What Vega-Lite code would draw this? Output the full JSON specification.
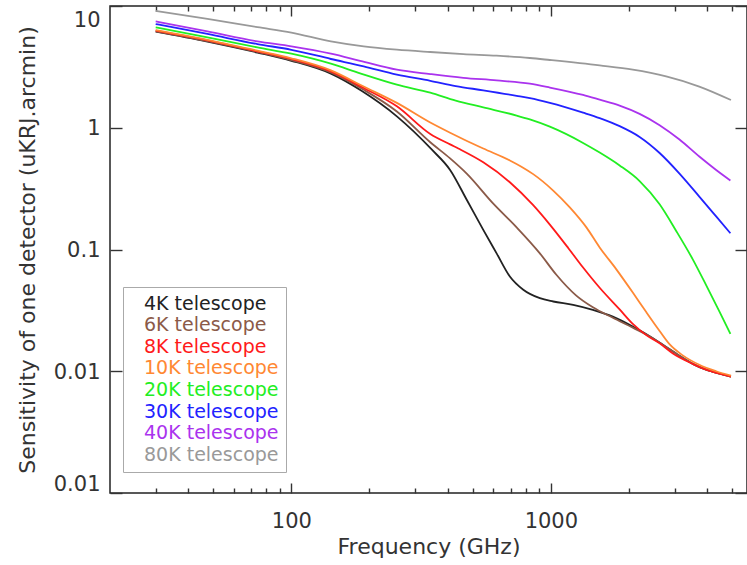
{
  "$schema": "https://vega.github.io/schema/vega-lite/v6.json",
  "width": 637,
  "height": 487,
  "autosize": {"type": "none"},
  "padding": {"left": 110, "top": 6, "right": 0, "bottom": 72},
  "background": "white",
  "config": {
    "view": {"stroke": "#222", "strokeWidth": 1.5},
    "font": "DejaVu Sans",
    "axis": {"grid": false, "domain": false, "ticks": true, "zindex": 1, "labelFont": "DejaVu Sans", "titleFont": "DejaVu Sans", "labelColor": "#333", "titleColor": "#333", "tickColor": "#333333", "tickWidth": 1.4, "tickOpacity": 1, "titleFontWeight": "normal"}
  },
  "datasets": {
    "curves": [
      {"telescope": "4K telescope", "freq": 30, "sens": 6.15},
      {"telescope": "4K telescope", "freq": 47.5, "sens": 5.1},
      {"telescope": "4K telescope", "freq": 74, "sens": 4.15},
      {"telescope": "4K telescope", "freq": 100, "sens": 3.55},
      {"telescope": "4K telescope", "freq": 142, "sens": 2.78},
      {"telescope": "4K telescope", "freq": 187, "sens": 2.0},
      {"telescope": "4K telescope", "freq": 255, "sens": 1.24},
      {"telescope": "4K telescope", "freq": 348, "sens": 0.66},
      {"telescope": "4K telescope", "freq": 409, "sens": 0.45},
      {"telescope": "4K telescope", "freq": 474, "sens": 0.256},
      {"telescope": "4K telescope", "freq": 549, "sens": 0.145},
      {"telescope": "4K telescope", "freq": 618, "sens": 0.093},
      {"telescope": "4K telescope", "freq": 695, "sens": 0.06},
      {"telescope": "4K telescope", "freq": 783, "sens": 0.0467},
      {"telescope": "4K telescope", "freq": 907, "sens": 0.0398},
      {"telescope": "4K telescope", "freq": 1021, "sens": 0.0374},
      {"telescope": "4K telescope", "freq": 1219, "sens": 0.0351},
      {"telescope": "4K telescope", "freq": 1452, "sens": 0.0319},
      {"telescope": "4K telescope", "freq": 1733, "sens": 0.0281},
      {"telescope": "4K telescope", "freq": 2069, "sens": 0.0233},
      {"telescope": "4K telescope", "freq": 2471, "sens": 0.0187},
      {"telescope": "4K telescope", "freq": 2782, "sens": 0.0158},
      {"telescope": "4K telescope", "freq": 3131, "sens": 0.0134},
      {"telescope": "4K telescope", "freq": 3523, "sens": 0.0115},
      {"telescope": "4K telescope", "freq": 3966, "sens": 0.0103},
      {"telescope": "4K telescope", "freq": 4460, "sens": 0.00955},
      {"telescope": "4K telescope", "freq": 4944, "sens": 0.00903},

      {"telescope": "6K telescope", "freq": 30, "sens": 6.2},
      {"telescope": "6K telescope", "freq": 47.5, "sens": 5.15},
      {"telescope": "6K telescope", "freq": 74, "sens": 4.2},
      {"telescope": "6K telescope", "freq": 100, "sens": 3.6},
      {"telescope": "6K telescope", "freq": 142, "sens": 2.85},
      {"telescope": "6K telescope", "freq": 190, "sens": 2.05},
      {"telescope": "6K telescope", "freq": 255, "sens": 1.36},
      {"telescope": "6K telescope", "freq": 343, "sens": 0.76},
      {"telescope": "6K telescope", "freq": 409, "sens": 0.56},
      {"telescope": "6K telescope", "freq": 474, "sens": 0.42},
      {"telescope": "6K telescope", "freq": 600, "sens": 0.238},
      {"telescope": "6K telescope", "freq": 738, "sens": 0.152},
      {"telescope": "6K telescope", "freq": 907, "sens": 0.093},
      {"telescope": "6K telescope", "freq": 1050, "sens": 0.062},
      {"telescope": "6K telescope", "freq": 1250, "sens": 0.042},
      {"telescope": "6K telescope", "freq": 1452, "sens": 0.0335},
      {"telescope": "6K telescope", "freq": 1733, "sens": 0.0275},
      {"telescope": "6K telescope", "freq": 2069, "sens": 0.0228},
      {"telescope": "6K telescope", "freq": 2471, "sens": 0.0187},
      {"telescope": "6K telescope", "freq": 2782, "sens": 0.0158},
      {"telescope": "6K telescope", "freq": 3131, "sens": 0.0134},
      {"telescope": "6K telescope", "freq": 3523, "sens": 0.0115},
      {"telescope": "6K telescope", "freq": 3966, "sens": 0.0103},
      {"telescope": "6K telescope", "freq": 4460, "sens": 0.00955},
      {"telescope": "6K telescope", "freq": 4944, "sens": 0.00903},

      {"telescope": "8K telescope", "freq": 30, "sens": 6.27},
      {"telescope": "8K telescope", "freq": 47.5, "sens": 5.22},
      {"telescope": "8K telescope", "freq": 74, "sens": 4.24},
      {"telescope": "8K telescope", "freq": 100, "sens": 3.67},
      {"telescope": "8K telescope", "freq": 142, "sens": 2.9},
      {"telescope": "8K telescope", "freq": 190, "sens": 2.12},
      {"telescope": "8K telescope", "freq": 255, "sens": 1.5},
      {"telescope": "8K telescope", "freq": 343, "sens": 0.89},
      {"telescope": "8K telescope", "freq": 409, "sens": 0.73},
      {"telescope": "8K telescope", "freq": 440, "sens": 0.675},
      {"telescope": "8K telescope", "freq": 549, "sens": 0.52},
      {"telescope": "8K telescope", "freq": 695, "sens": 0.357},
      {"telescope": "8K telescope", "freq": 855, "sens": 0.231},
      {"telescope": "8K telescope", "freq": 991, "sens": 0.16},
      {"telescope": "8K telescope", "freq": 1170, "sens": 0.102},
      {"telescope": "8K telescope", "freq": 1331, "sens": 0.0711},
      {"telescope": "8K telescope", "freq": 1542, "sens": 0.0485},
      {"telescope": "8K telescope", "freq": 1841, "sens": 0.0322},
      {"telescope": "8K telescope", "freq": 2069, "sens": 0.0245},
      {"telescope": "8K telescope", "freq": 2331, "sens": 0.0198},
      {"telescope": "8K telescope", "freq": 2625, "sens": 0.017},
      {"telescope": "8K telescope", "freq": 2954, "sens": 0.014},
      {"telescope": "8K telescope", "freq": 3523, "sens": 0.0115},
      {"telescope": "8K telescope", "freq": 3966, "sens": 0.0103},
      {"telescope": "8K telescope", "freq": 4460, "sens": 0.00955},
      {"telescope": "8K telescope", "freq": 4944, "sens": 0.00903},

      {"telescope": "10K telescope", "freq": 30, "sens": 6.35},
      {"telescope": "10K telescope", "freq": 47.5, "sens": 5.28},
      {"telescope": "10K telescope", "freq": 74, "sens": 4.3},
      {"telescope": "10K telescope", "freq": 100, "sens": 3.72},
      {"telescope": "10K telescope", "freq": 142, "sens": 2.96},
      {"telescope": "10K telescope", "freq": 190, "sens": 2.18},
      {"telescope": "10K telescope", "freq": 255, "sens": 1.6},
      {"telescope": "10K telescope", "freq": 343, "sens": 1.104},
      {"telescope": "10K telescope", "freq": 409, "sens": 0.91},
      {"telescope": "10K telescope", "freq": 460, "sens": 0.805},
      {"telescope": "10K telescope", "freq": 549, "sens": 0.675},
      {"telescope": "10K telescope", "freq": 695, "sens": 0.539},
      {"telescope": "10K telescope", "freq": 770, "sens": 0.479},
      {"telescope": "10K telescope", "freq": 855, "sens": 0.416},
      {"telescope": "10K telescope", "freq": 1021, "sens": 0.305},
      {"telescope": "10K telescope", "freq": 1183, "sens": 0.222},
      {"telescope": "10K telescope", "freq": 1371, "sens": 0.152},
      {"telescope": "10K telescope", "freq": 1542, "sens": 0.104},
      {"telescope": "10K telescope", "freq": 1788, "sens": 0.0687},
      {"telescope": "10K telescope", "freq": 2069, "sens": 0.0443},
      {"telescope": "10K telescope", "freq": 2331, "sens": 0.0306},
      {"telescope": "10K telescope", "freq": 2625, "sens": 0.0214},
      {"telescope": "10K telescope", "freq": 2871, "sens": 0.0166},
      {"telescope": "10K telescope", "freq": 3223, "sens": 0.0135},
      {"telescope": "10K telescope", "freq": 3733, "sens": 0.0113},
      {"telescope": "10K telescope", "freq": 4335, "sens": 0.01},
      {"telescope": "10K telescope", "freq": 4944, "sens": 0.0092},

      {"telescope": "20K telescope", "freq": 30, "sens": 6.67},
      {"telescope": "20K telescope", "freq": 47.5, "sens": 5.52},
      {"telescope": "20K telescope", "freq": 74, "sens": 4.57},
      {"telescope": "20K telescope", "freq": 100, "sens": 4.06},
      {"telescope": "20K telescope", "freq": 142, "sens": 3.36},
      {"telescope": "20K telescope", "freq": 184, "sens": 2.8},
      {"telescope": "20K telescope", "freq": 255, "sens": 2.26},
      {"telescope": "20K telescope", "freq": 343, "sens": 1.94},
      {"telescope": "20K telescope", "freq": 430, "sens": 1.67},
      {"telescope": "20K telescope", "freq": 549, "sens": 1.47},
      {"telescope": "20K telescope", "freq": 738, "sens": 1.26},
      {"telescope": "20K telescope", "freq": 830, "sens": 1.17},
      {"telescope": "20K telescope", "freq": 991, "sens": 1.02},
      {"telescope": "20K telescope", "freq": 1331, "sens": 0.75},
      {"telescope": "20K telescope", "freq": 1542, "sens": 0.625},
      {"telescope": "20K telescope", "freq": 1841, "sens": 0.49},
      {"telescope": "20K telescope", "freq": 2198, "sens": 0.365},
      {"telescope": "20K telescope", "freq": 2625, "sens": 0.235},
      {"telescope": "20K telescope", "freq": 3041, "sens": 0.142},
      {"telescope": "20K telescope", "freq": 3523, "sens": 0.083},
      {"telescope": "20K telescope", "freq": 3966, "sens": 0.051},
      {"telescope": "20K telescope", "freq": 4460, "sens": 0.031},
      {"telescope": "20K telescope", "freq": 4920, "sens": 0.0203},

      {"telescope": "30K telescope", "freq": 30, "sens": 7.11},
      {"telescope": "30K telescope", "freq": 47.5, "sens": 5.89},
      {"telescope": "30K telescope", "freq": 74, "sens": 4.87},
      {"telescope": "30K telescope", "freq": 100, "sens": 4.37},
      {"telescope": "30K telescope", "freq": 142, "sens": 3.67},
      {"telescope": "30K telescope", "freq": 190, "sens": 3.19},
      {"telescope": "30K telescope", "freq": 255, "sens": 2.73},
      {"telescope": "30K telescope", "freq": 343, "sens": 2.43},
      {"telescope": "30K telescope", "freq": 430, "sens": 2.2},
      {"telescope": "30K telescope", "freq": 549, "sens": 2.03},
      {"telescope": "30K telescope", "freq": 738, "sens": 1.83},
      {"telescope": "30K telescope", "freq": 830, "sens": 1.75},
      {"telescope": "30K telescope", "freq": 991, "sens": 1.6},
      {"telescope": "30K telescope", "freq": 1331, "sens": 1.33},
      {"telescope": "30K telescope", "freq": 1542, "sens": 1.2},
      {"telescope": "30K telescope", "freq": 1841, "sens": 1.03},
      {"telescope": "30K telescope", "freq": 2198, "sens": 0.84},
      {"telescope": "30K telescope", "freq": 2625, "sens": 0.62},
      {"telescope": "30K telescope", "freq": 3131, "sens": 0.42},
      {"telescope": "30K telescope", "freq": 3733, "sens": 0.272},
      {"telescope": "30K telescope", "freq": 4335, "sens": 0.187},
      {"telescope": "30K telescope", "freq": 4920, "sens": 0.136},

      {"telescope": "40K telescope", "freq": 30, "sens": 7.47},
      {"telescope": "40K telescope", "freq": 47.5, "sens": 6.18},
      {"telescope": "40K telescope", "freq": 74, "sens": 5.12},
      {"telescope": "40K telescope", "freq": 100, "sens": 4.66},
      {"telescope": "40K telescope", "freq": 142, "sens": 4.06},
      {"telescope": "40K telescope", "freq": 184, "sens": 3.55},
      {"telescope": "40K telescope", "freq": 255, "sens": 3.0},
      {"telescope": "40K telescope", "freq": 343, "sens": 2.76},
      {"telescope": "40K telescope", "freq": 460, "sens": 2.57},
      {"telescope": "40K telescope", "freq": 618, "sens": 2.45},
      {"telescope": "40K telescope", "freq": 830, "sens": 2.3},
      {"telescope": "40K telescope", "freq": 991, "sens": 2.14},
      {"telescope": "40K telescope", "freq": 1331, "sens": 1.86},
      {"telescope": "40K telescope", "freq": 1542, "sens": 1.7},
      {"telescope": "40K telescope", "freq": 1841, "sens": 1.52},
      {"telescope": "40K telescope", "freq": 2198, "sens": 1.3},
      {"telescope": "40K telescope", "freq": 2625, "sens": 1.05},
      {"telescope": "40K telescope", "freq": 3131, "sens": 0.8},
      {"telescope": "40K telescope", "freq": 3733, "sens": 0.58},
      {"telescope": "40K telescope", "freq": 4335, "sens": 0.45},
      {"telescope": "40K telescope", "freq": 4920, "sens": 0.369},

      {"telescope": "80K telescope", "freq": 30, "sens": 9.1},
      {"telescope": "80K telescope", "freq": 47.5, "sens": 7.85},
      {"telescope": "80K telescope", "freq": 74, "sens": 6.7},
      {"telescope": "80K telescope", "freq": 100, "sens": 6.05},
      {"telescope": "80K telescope", "freq": 142, "sens": 5.12},
      {"telescope": "80K telescope", "freq": 190, "sens": 4.66},
      {"telescope": "80K telescope", "freq": 255, "sens": 4.38},
      {"telescope": "80K telescope", "freq": 343, "sens": 4.19},
      {"telescope": "80K telescope", "freq": 460, "sens": 4.03},
      {"telescope": "80K telescope", "freq": 618, "sens": 3.91},
      {"telescope": "80K telescope", "freq": 830, "sens": 3.74},
      {"telescope": "80K telescope", "freq": 991, "sens": 3.6},
      {"telescope": "80K telescope", "freq": 1542, "sens": 3.25},
      {"telescope": "80K telescope", "freq": 2069, "sens": 3.0},
      {"telescope": "80K telescope", "freq": 2782, "sens": 2.64},
      {"telescope": "80K telescope", "freq": 3733, "sens": 2.18},
      {"telescope": "80K telescope", "freq": 4944, "sens": 1.69}
    ]
  },
  "data": {"name": "curves"},
  "layer": [
    {
      "mark": {"type": "line", "interpolate": "monotone", "strokeWidth": 1.8},
      "encoding": {
        "x": {
          "field": "freq", "type": "quantitative",
          "scale": {"type": "log", "domain": [20, 5700], "nice": false},
          "axis": {
            "orient": "bottom",
            "offset": -10,
            "values": [30, 40, 50, 60, 70, 80, 90, 100, 200, 300, 400, 500, 600, 700, 800, 900, 1000, 2000, 3000, 4000, 5000],
            "labelExpr": "datum.value == 100 ? '100' : datum.value == 1000 ? '1000' : ''",
            "tickSize": 10,
            "tickDash": {"condition": {"test": "datum.value == 100 || datum.value == 1000", "value": [10, 0]}, "value": [0, 5, 5, 20]},
            "labelFontSize": 21,
            "labelPadding": 17,
            "labelOverlap": false,
            "labelFlush": false,
            "title": "Frequency (GHz)",
            "titleFontSize": 22,
            "titleBaseline": "middle",
            "titleY": 63.7
          }
        },
        "y": {
          "field": "sens", "type": "quantitative",
          "scale": {"type": "log", "domain": [0.001, 10], "nice": false},
          "axis": {
            "orient": "left",
            "offset": -12,
            "values": [0.001, 0.01, 0.1, 1, 10],
            "labelExpr": "datum.value == 10 ? '10' : datum.value == 1 ? '1' : datum.value > 0.05 ? '0.1' : '0.01'",
            "tickSize": 12,
            "labelFontSize": 21,
            "labelPadding": 10,
            "labelOverlap": false,
            "labelFlush": true,
            "labelFlushOffset": 0,
            "labelOffset": {"condition": {"test": "datum.value == 10", "value": 3.5}, "value": 1},
            "title": "Sensitivity of one detector (uKRJ.arcmin)",
            "titleFontSize": 22,
            "titleBaseline": "middle",
            "titleX": -95,
            "titleY": 243.5
          }
        },
        "color": {
          "field": "telescope", "type": "nominal",
          "scale": {
            "domain": ["4K telescope", "6K telescope", "8K telescope", "10K telescope", "20K telescope", "30K telescope", "40K telescope", "80K telescope"],
            "range": ["#222222", "#8b5a48", "#ff1a1a", "#ff8833", "#22ee22", "#2222ff", "#aa33ee", "#999999"]
          },
          "legend": {
            "orient": "none",
            "legendX": 13,
            "legendY": 281,
            "title": null,
            "strokeColor": "#aaaaaa",
            "fillColor": "white",
            "padding": 7,
            "labelFont": "DejaVu Sans",
            "labelFontSize": 19,
            "labelOffset": -5,
            "rowPadding": 1.6,
            "symbolSize": 0,
            "symbolOpacity": 0,
            "symbolStrokeWidth": 0,
            "encode": {"labels": {"update": {"fill": {"scale": "color", "field": "value"}}}}
          }
        }
      }
    },
    {
      "mark": {"type": "point", "opacity": 0},
      "encoding": {
        "x": {
          "field": "freq", "type": "quantitative",
          "scale": {"type": "log", "domain": [20, 5700], "nice": false},
          "axis": {
            "orient": "top",
            "offset": -10,
            "values": [30, 40, 50, 60, 70, 80, 90, 100, 200, 300, 400, 500, 600, 700, 800, 900, 1000, 2000, 3000, 4000, 5000],
            "labels": false,
            "title": null,
            "tickSize": 10,
            "tickDash": {"condition": {"test": "datum.value == 100 || datum.value == 1000", "value": [10, 0]}, "value": [0, 5, 5, 20]}
          }
        },
        "y": {
          "field": "sens", "type": "quantitative",
          "scale": {"type": "log", "domain": [0.001, 10], "nice": false},
          "axis": {
            "orient": "right",
            "offset": -12,
            "values": [0.001, 0.01, 0.1, 1, 10],
            "labels": false,
            "title": null,
            "tickSize": 12
          }
        }
      }
    }
  ],
  "resolve": {"axis": {"x": "independent", "y": "independent"}}
}
